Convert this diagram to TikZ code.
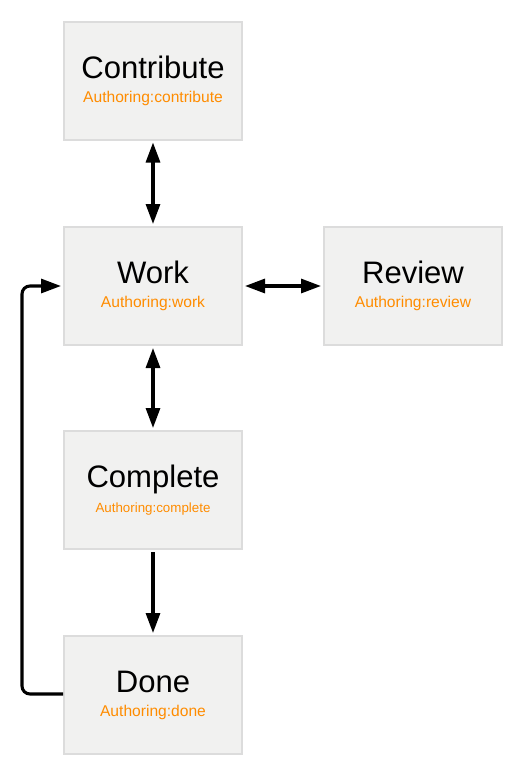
\documentclass[tikz,border=0pt]{standalone}
\usepackage{fontspec}
\setmainfont{Liberation Sans}
\usetikzlibrary{arrows.meta}
\definecolor{boxfill}{HTML}{F1F1F0}
\definecolor{boxline}{HTML}{DCDCDC}
\definecolor{authorange}{HTML}{FF8C00}
\tikzset{
  state/.style={draw=boxline, fill=boxfill, line width=1.5pt, minimum width=133.5pt, minimum height=88.5pt, align=center, inner sep=0pt},
  link/.style={line width=2.3pt, {Triangle[length=15pt,width=10.5pt]}-{Triangle[length=15pt,width=10.5pt]}, shorten <=1.5pt, shorten >=1.5pt},
  onelink/.style={line width=2.3pt, -{Triangle[length=15pt,width=10.5pt]}, shorten <=1.5pt, shorten >=1.5pt}
}
\newcommand{\statetext}[2]{{\fontsize{23.3}{26}\selectfont #1}\\[6pt]{\fontsize{11.7}{13}\selectfont\color{authorange}#2}}
\begin{document}
\begin{tikzpicture}[x=0.75pt, y=-0.75pt]
      \useasboundingbox (0,0) rectangle (522,776);
      \node[state] (contribute) at (153,80.5) {\statetext{Contribute}{Authoring:contribute}};
      \node[state] (work) at (153,286) {\statetext{Work}{Authoring:work}};
      \node[state] (review) at (413,286) {\statetext{Review}{Authoring:review}};
      \node[state] (complete) at (153,490) {\statetext{Complete}{\fontsize{10}{13}\selectfont Authoring:complete}};
      \node[state] (done) at (153,695) {\statetext{Done}{Authoring:done}};
      \draw[link] (contribute) -- (work);
      \draw[link] (work) -- (review);
      \draw[link] (work) -- (complete);
      \draw[onelink] (complete) -- (done);
      \coordinate (back) at (22,694);
      \draw[onelink, rounded corners=6pt, shorten <=0pt] (done.west |- back) -- (back) |- (work.west);
    \end{tikzpicture}
\end{document}
